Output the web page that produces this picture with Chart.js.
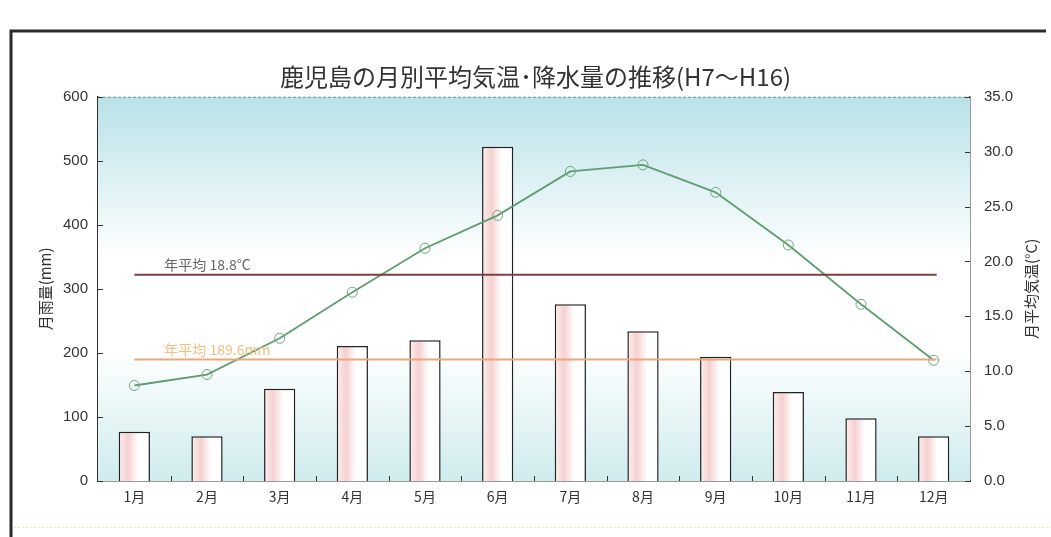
<!DOCTYPE html>
<html>
<head>
<meta charset="utf-8">
<script src="https://cdn.jsdelivr.net/npm/chart.js@4"></script>
<style>
  html, body { margin: 0; padding: 0; background: #fff; }
  #wrap { width: 1051px; height: 537px; }
</style>
</head>
<body>
<div id="wrap"><canvas id="myChart" width="1051" height="537"></canvas></div>
<script>
// 鹿児島の月別平均気温・降水量 (H7〜H16)
const months = ['1月', '2月', '3月', '4月', '5月', '6月', '7月', '8月', '9月', '10月', '11月', '12月'];
const rainfall = [77, 70, 144, 211, 220, 522, 276, 234, 194, 139, 98, 70];            // mm
const temperature = [8.7, 9.7, 13.0, 17.2, 21.2, 24.2, 28.2, 28.8, 26.3, 21.5, 16.1, 11.0]; // °C
const avgTemp = 18.8;
const avgRain = 189.6;
const rainTicks = [0, 100, 200, 300, 400, 500, 600];
const tempTicks = [0, 5, 10, 15, 20, 25, 30, 35];

const numFont = { family: '"Liberation Sans", Arial, sans-serif', size: 15 };
const jpFont = '"Noto Sans CJK JP", "Noto Sans", sans-serif';

// 背景のグラデーション
const bgPlugin = {
  id: 'bg',
  beforeDatasetsDraw(chart) {
    const { ctx, chartArea: a } = chart;
    const g = ctx.createLinearGradient(0, a.top, 0, a.bottom);
    g.addColorStop(0, '#b8e2e8');
    g.addColorStop(0.42, '#ffffff');
    g.addColorStop(0.66, '#ffffff');
    g.addColorStop(1, '#cfecee');
    ctx.save();
    ctx.fillStyle = g;
    ctx.fillRect(a.left, a.top, a.right - a.left, a.bottom - a.top);
    ctx.restore();
  }
};

// 年平均の線と文字、目盛り、枠
const extrasPlugin = {
  id: 'extras',
  afterDatasetsDraw(chart) {
    const { ctx, chartArea: a, scales } = chart;
    const x0 = scales.x.getPixelForValue(0);
    const x1 = scales.x.getPixelForValue(months.length - 1) + 3;

    ctx.save();
    // 年平均気温
    let y = scales.y1.getPixelForValue(avgTemp);
    ctx.strokeStyle = '#7d3f44';
    ctx.lineWidth = 2;
    ctx.beginPath(); ctx.moveTo(x0, y); ctx.lineTo(x1, y); ctx.stroke();
    ctx.font = '14px ' + jpFont;
    ctx.fillStyle = '#666';
    ctx.textBaseline = 'bottom';
    ctx.fillText('年平均 ' + avgTemp.toFixed(1) + '°C', x0 + 30, y - 3);

    // 年平均降水量
    y = scales.y.getPixelForValue(avgRain);
    ctx.strokeStyle = '#e9a77a';
    ctx.lineWidth = 2;
    ctx.beginPath(); ctx.moveTo(x0, y); ctx.lineTo(x1, y); ctx.stroke();
    ctx.fillStyle = '#f0bf80';
    ctx.fillText('年平均 ' + avgRain.toFixed(1) + 'mm', x0 + 30, y - 3);
    ctx.restore();
  },
  afterDraw(chart) {
    const { ctx, chartArea: a, scales } = chart;
    ctx.save();
    // 上辺 (破線)
    ctx.strokeStyle = '#888';
    ctx.lineWidth = 1;
    ctx.setLineDash([3, 2]);
    ctx.beginPath(); ctx.moveTo(a.left, a.top + 0.5); ctx.lineTo(a.right, a.top + 0.5); ctx.stroke();
    ctx.setLineDash([]);

    // 内向きの目盛り
    ctx.strokeStyle = '#333';
    rainTicks.forEach(v => {
      const yy = Math.round(scales.y.getPixelForValue(v)) + 0.5;
      ctx.beginPath(); ctx.moveTo(a.left, yy); ctx.lineTo(a.left + 5, yy); ctx.stroke();
    });
    tempTicks.forEach(v => {
      const yy = Math.round(scales.y1.getPixelForValue(v)) + 0.5;
      ctx.beginPath(); ctx.moveTo(a.right, yy); ctx.lineTo(a.right - 5, yy); ctx.stroke();
    });
    const step = (a.right - a.left) / months.length;
    for (let i = 1; i < months.length; i++) {
      const xx = Math.round(a.left + step * i) + 0.5;
      ctx.beginPath(); ctx.moveTo(xx, a.bottom); ctx.lineTo(xx, a.bottom - 5); ctx.stroke();
    }

    // 軸タイトル
    ctx.fillStyle = '#333';
    ctx.font = '15px ' + jpFont;
    ctx.textAlign = 'center';
    ctx.textBaseline = 'middle';
    const midY = (a.top + a.bottom) / 2;
    ctx.save(); ctx.translate(45, midY); ctx.rotate(-Math.PI / 2); ctx.fillText('月雨量(mm)', 0, 0); ctx.restore();
    ctx.save(); ctx.translate(1031, midY); ctx.rotate(-Math.PI / 2); ctx.fillText('月平均気温(°C)', 0, 0); ctx.restore();

    // 外枠
    ctx.strokeStyle = '#2a2a2a';
    ctx.lineWidth = 3;
    ctx.beginPath(); ctx.moveTo(11, 537); ctx.lineTo(11, 31); ctx.lineTo(1046, 31); ctx.stroke();
    ctx.strokeStyle = 'rgba(230, 210, 140, 0.6)';
    ctx.lineWidth = 1;
    ctx.setLineDash([2, 2]);
    ctx.beginPath(); ctx.moveTo(14, 527.5); ctx.lineTo(1051, 527.5); ctx.stroke();
    ctx.restore();
  }
};

function barFill(context) {
  const chart = context.chart;
  if (!chart.chartArea) return '#fff';
  const xs = chart.scales.x;
  const cx = xs.getPixelForValue(context.dataIndex);
  const w = (chart.chartArea.right - chart.chartArea.left) / months.length * 0.43;
  const g = chart.ctx.createLinearGradient(cx - w / 2, 0, cx + w / 2, 0);
  g.addColorStop(0, '#fdf0f0');
  g.addColorStop(0.3, '#f5d0d0');
  g.addColorStop(0.62, '#ffffff');
  g.addColorStop(1, '#ffffff');
  return g;
}

const ctx = document.getElementById('myChart').getContext('2d');
new Chart(ctx, {
  data: {
    labels: months,
    datasets: [
      {
        type: 'line',
        label: '月平均気温',
        data: temperature,
        yAxisID: 'y1',
        borderColor: '#5f9c70',
        borderWidth: 1.8,
        pointRadius: 5,
        pointBorderWidth: 1,
        pointBorderColor: '#6ea87d',
        pointBackgroundColor: 'rgba(0,0,0,0)',
        tension: 0,
        order: 0
      },
      {
        type: 'bar',
        label: '月雨量',
        data: rainfall,
        yAxisID: 'y',
        backgroundColor: barFill,
        borderColor: '#222',
        borderWidth: 1.5,
        borderSkipped: 'bottom',
        categoryPercentage: 1,
        barPercentage: 0.43,
        order: 1
      }
    ]
  },
  options: {
    responsive: false,
    animation: false,
    layout: { padding: { left: 20, right: 0, top: 0, bottom: 0 } },
    plugins: {
      legend: { display: false },
      tooltip: { enabled: false },
      title: {
        display: true,
        text: '鹿児島の月別平均気温･降水量の推移(H7～H16)',
        color: '#333',
        font: { family: jpFont, size: 24, weight: 'normal' },
        padding: { top: 62, bottom: 6 }
      }
    },
    scales: {
      x: {
        grid: { display: false, drawTicks: false },
        border: { display: true, color: '#333', width: 1.5 },
        ticks: { color: '#333', font: { family: jpFont, size: 14 }, padding: 7 },
        afterFit(s) { s.height = 56; }
      },
      y: {
        position: 'left',
        min: 0, max: 600,
        grid: { display: false, drawTicks: false },
        border: { display: true, color: '#333', width: 1.5 },
        afterBuildTicks(s) { s.ticks = rainTicks.map(v => ({ value: v })); },
        ticks: { color: '#333', font: numFont, padding: 10 },
        afterFit(s) { s.width = 78; }
      },
      y1: {
        position: 'right',
        min: 0, max: 35,
        grid: { display: false, drawTicks: false },
        border: { display: true, color: '#333', width: 1.5 },
        afterBuildTicks(s) { s.ticks = tempTicks.map(v => ({ value: v })); },
        ticks: { color: '#333', font: numFont, padding: 14, callback: v => Number(v).toFixed(1) },
        afterFit(s) { s.width = 81; }
      }
    }
  },
  plugins: [bgPlugin, extrasPlugin]
});
</script>
</body>
</html>
